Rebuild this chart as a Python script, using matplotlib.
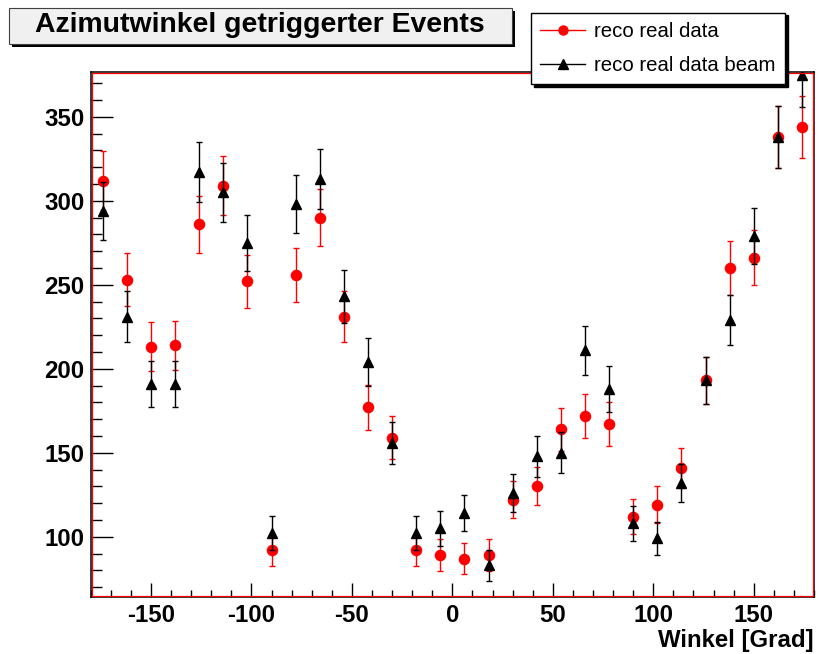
import numpy as np
import matplotlib
matplotlib.use("Agg")
import matplotlib.pyplot as plt
from matplotlib.patches import Rectangle
from matplotlib.lines import Line2D
from matplotlib.ticker import MultipleLocator

plt.rcParams["font.family"] = ["Liberation Sans", "DejaVu Sans"]
plt.rcParams["axes.unicode_minus"] = False

# Azimuth bin centres (12 degree bins)
angle = [-174, -162, -150, -138, -126, -114, -102, -90, -78, -66,
         -54, -42, -30, -18, -6, 6, 18, 30, 42, 54,
         66, 78, 90, 102, 114, 126, 138, 150, 162, 174]

# Event counts per bin
reco_real = [312, 253, 213, 214, 286, 309, 252, 92, 256, 290,
             231, 177, 159, 92, 89, 87, 89, 122, 130, 164,
             172, 167, 112, 119, 141, 193, 260, 266, 338, 344]
reco_beam = [294, 231, 191, 191, 317, 305, 275, 102, 298, 313,
             243, 204, 156, 102, 105, 114, 83, 126, 148, 150,
             211, 188, 108, 99, 132, 193, 229, 279, 338, 375]

series_labels = ["reco real data", "reco real data beam"]
title_text = "Azimutwinkel getriggerter Events"
xlabel_text = "Winkel [Grad]"

W, H = 821, 654
fig = plt.figure(figsize=(W / 100, H / 100), dpi=100)


def fx(px):
    return px / W


def fy(py):
    return 1 - py / H


left, right, top, bottom = 90.7, 814.0, 71.7, 596.7
ax = fig.add_axes([fx(left), fy(bottom), (right - left) / W, (bottom - top) / H])

x = np.array(angle)
y1 = np.array(reco_real, dtype=float)
y2 = np.array(reco_beam, dtype=float)

ax.errorbar(x, y1, yerr=np.sqrt(y1), fmt="o", color="red", mec="red", mfc="red",
            ms=7.3, elinewidth=1.0, capsize=2.5, capthick=1.0, zorder=3)
ax.errorbar(x, y2, yerr=np.sqrt(y2), fmt="^", color="black", mec="black", mfc="black",
            ms=7.5, elinewidth=1.0, capsize=2.5, capthick=1.0, zorder=4)

ax.set_xlim(-180, 180)
ax.set_ylim(64.3, 376.8)

ax.xaxis.set_major_locator(MultipleLocator(50))
ax.xaxis.set_minor_locator(MultipleLocator(10))
ax.yaxis.set_major_locator(MultipleLocator(50))
ax.yaxis.set_minor_locator(MultipleLocator(10))

ax.tick_params(axis="both", which="both", direction="in", top=False, right=False,
               width=1.0, color="black")
ax.tick_params(axis="y", which="major", length=15.8, pad=4.3)
ax.tick_params(axis="y", which="minor", length=7.9)
ax.tick_params(axis="x", which="major", length=10, pad=5)
ax.tick_params(axis="x", which="minor", length=5)

for lab in ax.get_xticklabels() + ax.get_yticklabels():
    lab.set_fontsize(17.3)
    lab.set_fontweight("bold")

for s in ax.spines.values():
    s.set_color("black")
    s.set_linewidth(1.1)

# red inner frame line
dx = 0.9 / (right - left)
dy = 0.9 / (bottom - top)
ax.add_patch(Rectangle((dx, dy), 1 - 2 * dx, 1 - 2 * dy, transform=ax.transAxes,
                       fill=False, edgecolor="red", lw=0.9, clip_on=False, zorder=5))

ax.set_xlabel(xlabel_text, fontsize=17.3, fontweight="bold", loc="right")
ax.xaxis.label.set_va("baseline")
ax.xaxis.set_label_coords(1.0, -(647 - bottom) / (bottom - top))

# Title box with shadow
bx0, by0, bx1, by1 = 8.5, 8.5, 512.0, 43.5
fig.add_artist(Rectangle((fx(bx0 + 3), fy(by1 + 3)), (bx1 - bx0) / W, (by1 - by0) / H,
                         transform=fig.transFigure, facecolor="black", edgecolor="none"))
fig.add_artist(Rectangle((fx(bx0), fy(by1)), (bx1 - bx0) / W, (by1 - by0) / H,
                         transform=fig.transFigure, facecolor="#f0f0f0",
                         edgecolor="#404040", lw=0.8))
fig.text(fx((bx0 + bx1) / 2), fy(31.5), title_text, ha="center", va="baseline",
         fontsize=20.4, fontweight="bold")

# Legend
handles = [Line2D([], [], color="red", marker="o", ms=6.5, lw=1.0),
           Line2D([], [], color="black", marker="^", ms=6.5, lw=1.0)]
leg = fig.legend(handles, series_labels, loc="upper left",
                 bbox_to_anchor=(fx(531), fy(12.7)), bbox_transform=fig.transFigure,
                 fontsize=14.65, frameon=True, fancybox=False, framealpha=1,
                 edgecolor="black", borderpad=0.45, labelspacing=0.75,
                 handlelength=2.2, handletextpad=0.45, borderaxespad=0,
                 shadow={"color": "black", "alpha": 1.0})
leg.get_frame().set_linewidth(1.0)

fig.savefig("out.png", dpi=100, facecolor="white")
